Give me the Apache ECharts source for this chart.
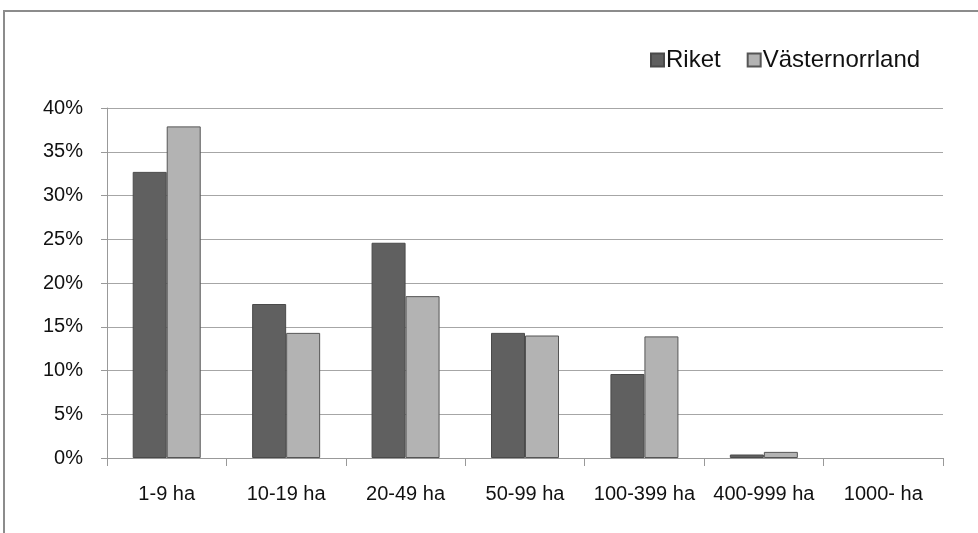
<!DOCTYPE html>
<html>
<head>
<meta charset="utf-8">
<script src="https://cdn.jsdelivr.net/npm/echarts@6/dist/echarts.min.js"></script>
<style>
html,body{margin:0;padding:0;background:#fff;}
#chart{width:978px;height:533px;}
</style>
</head>
<body>
<div id="chart"></div>
<script>
const categories = ['1-9 ha','10-19 ha','20-49 ha','50-99 ha','100-399 ha','400-999 ha','1000- ha'];
const riket = [32.7, 17.6, 24.6, 14.3, 9.6, 0.4, 0];
const vasternorrland = [37.9, 14.3, 18.5, 14.0, 13.9, 0.7, 0];
const seriesNames = ['Riket', 'Västernorrland'];

function toItems(arr) {
  return arr.map(v => v === 0 ? {value: v, itemStyle: {borderWidth: 0}} : v);
}

const chart = echarts.init(document.getElementById('chart'), null, {renderer:'canvas'});
const font = '"Liberation Sans", Arial, sans-serif';
chart.setOption({
  animation: false,
  backgroundColor: '#ffffff',
  textStyle: {fontFamily: font},
  graphic: [{
    type: 'rect', silent: true,
    shape: {x: 4, y: 11, width: 1100, height: 700},
    style: {fill: 'none', stroke: '#8c8c8c', lineWidth: 2}
  }],
  legend: {
    left: 645, top: 43,
    itemWidth: 13, itemHeight: 13, itemGap: 26,
    icon: 'rect',
    textStyle: {fontSize: 24, color: '#111', fontFamily: font, padding: [0,0,0,-3]},
    data: seriesNames
  },
  grid: {left: 107, right: 35, top: 108, bottom: 75, containLabel: false},
  xAxis: {
    type: 'category',
    data: categories,
    axisLine: {lineStyle: {color: '#999', width: 1}},
    axisTick: {show: true, length: 8, lineStyle: {color: '#999'}},
    axisLabel: {fontSize: 20, color: '#111', margin: 26, fontFamily: font, interval: 0}
  },
  yAxis: {
    type: 'value',
    min: 0, max: 40, interval: 5,
    axisLine: {show: true, lineStyle: {color: '#999', width: 1}},
    axisTick: {show: true, length: 6, lineStyle: {color: '#999'}},
    axisLabel: {fontSize: 20, color: '#111', margin: 24, fontFamily: font, formatter: '{value}%'},
    splitLine: {lineStyle: {color: '#a6a6a6', width: 1}}
  },
  series: [
    {
      name: seriesNames[0], type: 'bar', data: toItems(riket),
      barWidth: 34, barGap: '0%',
      itemStyle: {color: '#606060', borderColor: '#4a4a4a', borderWidth: 1}
    },
    {
      name: seriesNames[1], type: 'bar', data: toItems(vasternorrland),
      barWidth: 34, barGap: '0%',
      itemStyle: {color: '#b3b3b3', borderColor: '#555555', borderWidth: 1}
    }
  ]
});
</script>
</body>
</html>
